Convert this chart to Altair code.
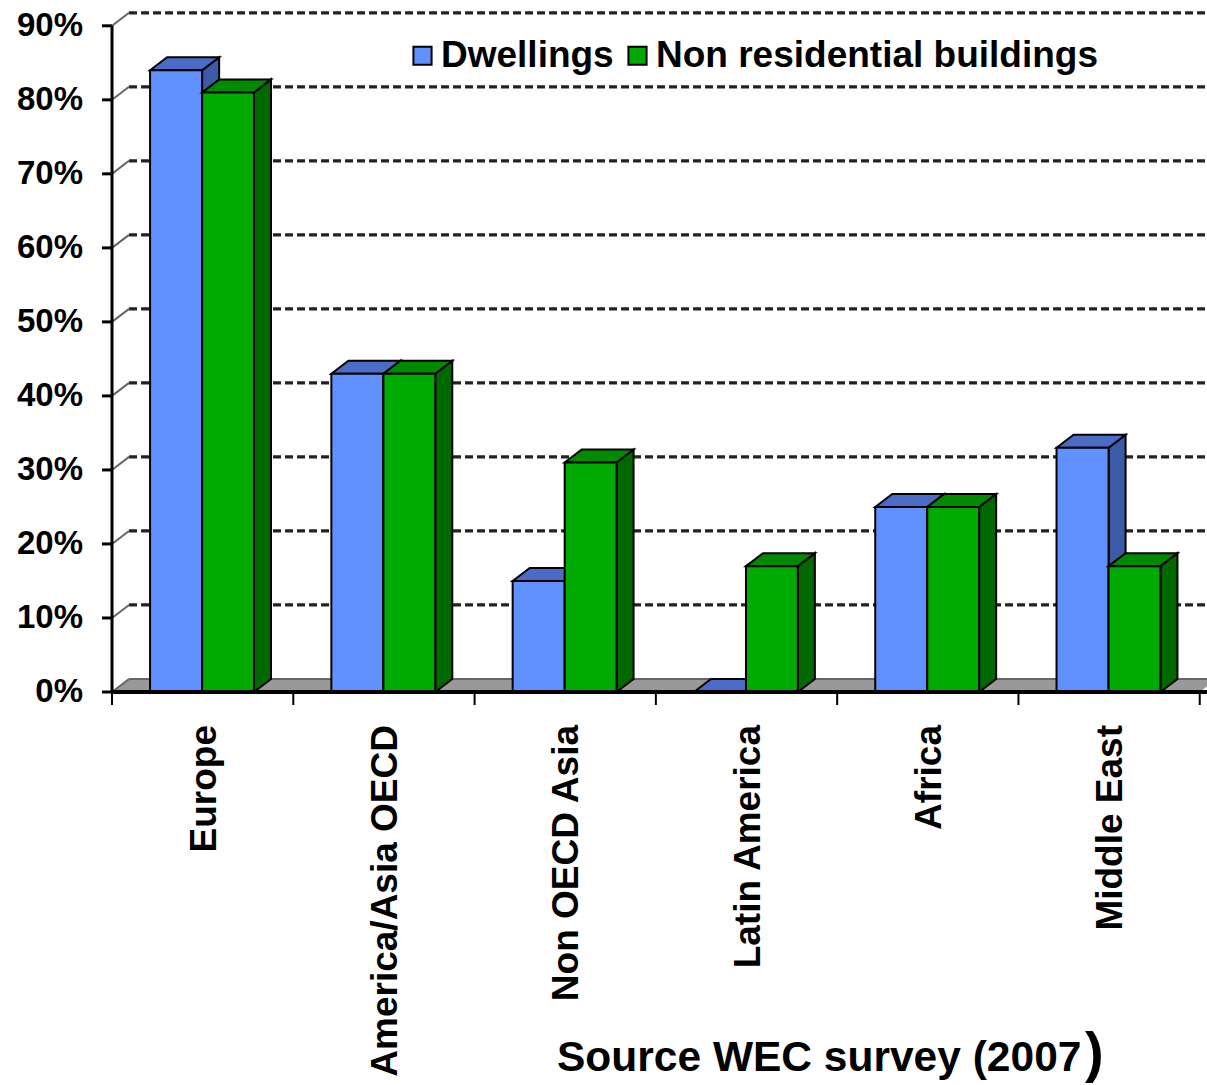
import altair as alt
import pandas as pd

# Share of buildings, by region (WEC survey 2007), in %
categories = ["Europe", "America/Asia OECD", "Non OECD Asia",
              "Latin America", "Africa", "Middle East"]
dwellings = [84, 43, 15, 0, 25, 33]
non_residential = [81, 43, 31, 17, 25, 17]
series = ["Dwellings", "Non residential buildings"]
y_ticks = [0, 10, 20, 30, 40, 50, 60, 70, 80, 90]
y_labels = [f"{t}%" for t in y_ticks]

FONT = "Liberation Sans"
BLUE, BLUE_TOP, BLUE_SIDE = "#6190FF", "#4A6CC6", "#3C5AA6"
GREEN, GREEN_TOP, GREEN_SIDE = "#00AA00", "#008A00", "#006A00"

# pseudo-3D depth, in data units (x: category units, y: percent)
DX, DY = 0.094, 1.76
BAR_L, BAR_M, BAR_R = 0.21, 0.497, 0.783
N = len(categories)
X_MAX = 6.04
PLOT_W, PLOT_H = 1095, 681

xs = alt.Scale(domain=[0, X_MAX], nice=False, zero=False)
ys = alt.Scale(domain=[0, 92], nice=False)

fronts, tops, sides = [], [], []
for i, cat in enumerate(categories):
    for s, vals, x0, x1 in [(series[0], dwellings, i + BAR_L, i + BAR_M),
                            (series[1], non_residential, i + BAR_M, i + BAR_R)]:
        v = vals[i]
        fronts.append({"cat": cat, "series": s, "x0": x0, "x1": x1,
                       "v": v, "base": 0})
        fid = f"{cat}-{s}"
        for x, y, y2 in [(x0, v, v), (x0 + DX, v + DY, v),
                         (x1, v + DY, v), (x1 + DX, v + DY, v + DY)]:
            tops.append({"face": fid, "series": s, "x": x, "y": y, "y2": y2})
        for x, y, y2 in [(x1, v, 0), (x1 + DX, v + DY, DY)]:
            sides.append({"face": fid, "series": s, "x": x, "y": y, "y2": y2})

front_df = pd.DataFrame(fronts)
top_df = pd.DataFrame(tops)
side_df = pd.DataFrame(sides)

floor_df = pd.DataFrame({"x": [0, DX, N, N + DX],
                         "y": [0, DY, DY, DY],
                         "y2": [0, 0, 0, DY]})
edge_df = pd.DataFrame({"x": [DX], "x2": [N + DX], "y": [DY]})
grid_df = pd.DataFrame({"k": y_ticks[1:]})
grid_df["y"] = grid_df["k"] + DY
grid_df["x"] = DX
grid_df["x2"] = N + DX
wall_df = pd.DataFrame({"k": y_ticks, "label": y_labels})
wall_df["y2"] = wall_df["k"] + DY
wall_df["x"] = 0.0
wall_df["x2"] = DX
yline_df = pd.DataFrame({"x": [0.0], "y": [0], "y2": [90]})
xline_df = pd.DataFrame({"x": [0.0], "x2": [X_MAX], "y": [0]})
xtick_df = pd.DataFrame({"x": list(range(N + 1))})
label_df = pd.DataFrame({"cat": categories,
                         "x": [i + 0.5 for i in range(N)],
                         "y": [0] * N})

X = lambda f: alt.X(f, scale=xs, axis=None)
Y = lambda f: alt.Y(f, scale=ys, axis=None, stack=None)

floor = alt.Chart(floor_df).mark_area(fill="#999999", clip=True).encode(
    x=X("x:Q"), y=Y("y:Q"), y2="y2:Q",
)
floor_edge = alt.Chart(edge_df).mark_rule(
    color="#666666", strokeWidth=2, clip=True
).encode(x=X("x:Q"), x2="x2:Q", y=Y("y:Q"))
grid = alt.Chart(grid_df).mark_rule(
    color="#222222", strokeWidth=3.2, strokeDash=[8, 4], clip=True
).encode(x=X("x:Q"), x2="x2:Q", y=Y("y:Q"))
wall = alt.Chart(wall_df).mark_rule(color="#666666", strokeWidth=2).encode(
    x=X("x:Q"), x2="x2:Q", y=Y("k:Q"), y2="y2:Q",
)

# axis lines, ticks and tick labels
y_line = alt.Chart(yline_df).mark_rule(color="black", strokeWidth=3).encode(
    x=X("x:Q"), y=Y("y:Q"), y2="y2:Q",
)
x_line = alt.Chart(xline_df).mark_rule(color="black", strokeWidth=4).encode(
    x=X("x:Q"), x2="x2:Q", y=Y("y:Q"),
)
y_tick = alt.Chart(wall_df).mark_rule(color="black", strokeWidth=3).encode(
    x=alt.value(-10), x2=alt.value(0), y=Y("k:Q"),
)
y_text = alt.Chart(wall_df).mark_text(
    align="right", baseline="middle", font=FONT, fontSize=33,
    fontWeight="bold", color="black",
).encode(x=alt.value(-29), y=Y("k:Q"), text="label:N")
x_tick = alt.Chart(xtick_df).mark_rule(color="black", strokeWidth=2).encode(
    x=X("x:Q"), y=alt.value(PLOT_H), y2=alt.value(PLOT_H + 13),
)


def faces(df, name, fill):
    return alt.Chart(df).transform_filter(
        alt.datum.series == name
    ).mark_area(fill=fill, stroke="black", strokeWidth=2,
                interpolate="linear", strokeJoin="miter").encode(
        x=X("x:Q"), y=Y("y:Q"), y2="y2:Q", detail="face:N",
    )


def front(name, legend=None):
    return alt.Chart(front_df).transform_filter(
        alt.datum.series == name
    ).mark_rect(stroke="black", strokeWidth=2).encode(
        x=X("x0:Q"), x2="x1:Q", y=Y("v:Q"), y2="base:Q",
        color=alt.Color("series:N", legend=legend,
                        scale=alt.Scale(domain=series, range=[BLUE, GREEN])),
    )


legend = alt.Legend(
    title=None, orient="none", legendX=292, legendY=26,
    direction="horizontal", symbolType="square", symbolSize=330,
    symbolStrokeColor="black", symbolStrokeWidth=2,
    labelFont=FONT, labelFontSize=37, labelFontWeight="bold",
    labelColor="black", labelOffset=0, columnPadding=5,
    padding=0, labelLimit=600,
)

cat_labels = alt.Chart(label_df).mark_text(
    angle=270, align="right", baseline="middle", dx=-33, dy=2,
    font=FONT, fontSize=37, fontWeight="bold", color="black",
).encode(x=X("x:Q"), y=Y("y:Q"), text="cat:N")

source_df = pd.DataFrame({"t": ["Source WEC survey (2007"]})
source = alt.Chart(source_df).mark_text(
    align="left", baseline="alphabetic", font=FONT, fontSize=42.5,
    fontWeight="bold", color="black",
).encode(x=alt.value(445), y=alt.value(1060), text="t:N")
paren = alt.Chart(pd.DataFrame({"t": [")"]})).mark_text(
    align="left", baseline="alphabetic", font=FONT, fontSize=56,
    fontWeight="bold", color="black",
).encode(x=alt.value(973), y=alt.value(1060), text="t:N")

chart = alt.layer(
    floor, floor_edge, grid, wall,
    faces(side_df, series[0], BLUE_SIDE),
    faces(top_df, series[0], BLUE_TOP),
    front(series[0], legend),
    faces(side_df, series[1], GREEN_SIDE),
    faces(top_df, series[1], GREEN_TOP),
    front(series[1]),
    x_line, y_line, y_tick, y_text, x_tick, cat_labels, source, paren,
).properties(
    width=PLOT_W, height=PLOT_H,
    padding={"left": 112, "top": 11, "right": 0, "bottom": 393},
    autosize=alt.AutoSizeParams(type="none"),
).configure_view(stroke=None)

chart.save("out.html", embed_options={"renderer": "svg", "actions": False})
